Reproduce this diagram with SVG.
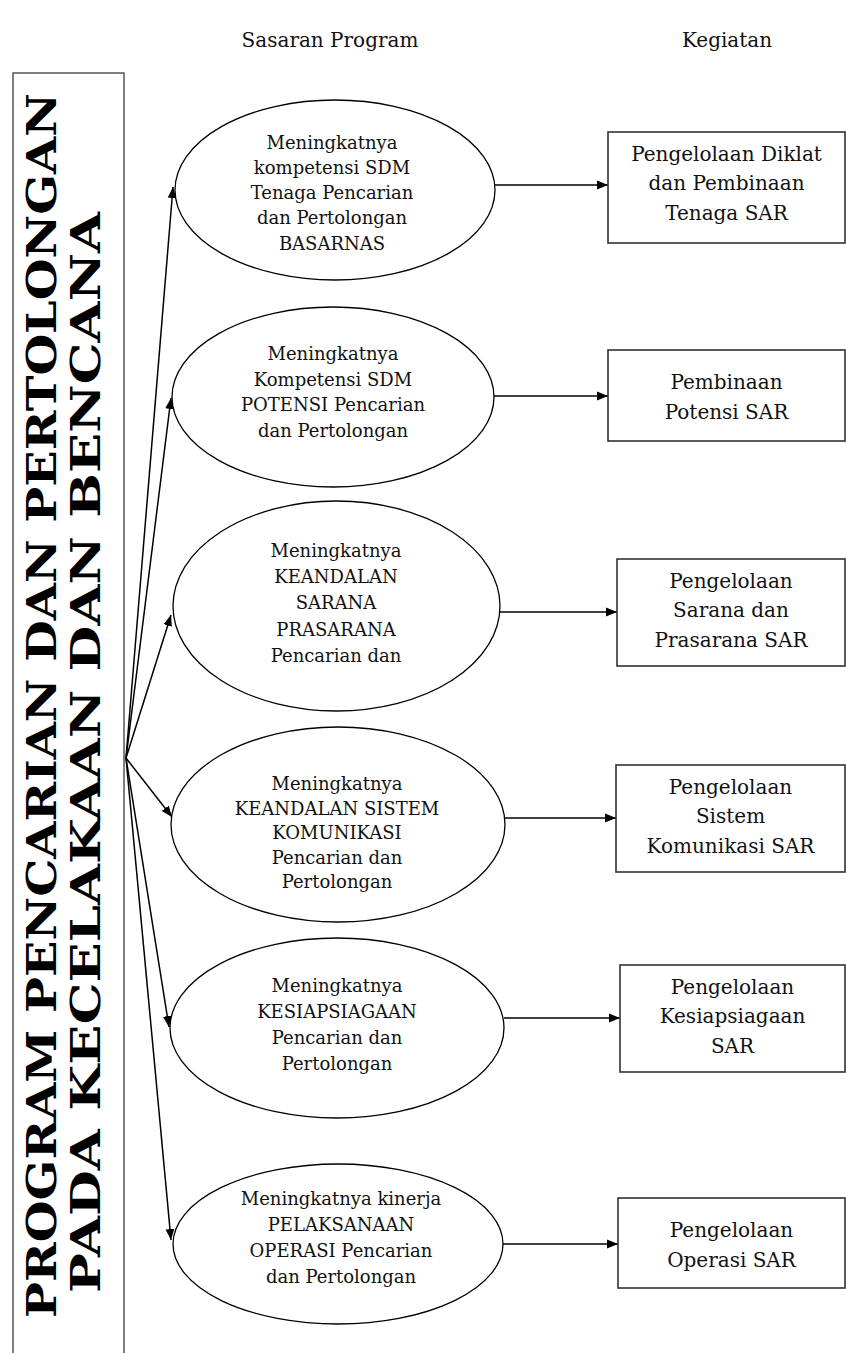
<svg xmlns="http://www.w3.org/2000/svg" width="846" height="1353" viewBox="0 0 846 1353">
<style>
.el{fill:#fff;stroke:#000;stroke-width:1.3}
.bx{fill:#fff;stroke:#333;stroke-width:1.6}
.t{font-family:"DejaVu Serif","Liberation Serif",serif;font-size:18px;fill:#111;text-anchor:middle}
.tb{font-family:"DejaVu Serif","Liberation Serif",serif;font-size:20px;fill:#111;text-anchor:middle}
.hd{font-family:"DejaVu Serif","Liberation Serif",serif;font-size:20px;fill:#111;text-anchor:middle}
.big{font-family:"DejaVu Serif","Liberation Serif",serif;font-weight:bold;font-size:41px;fill:#000;text-anchor:middle}
.cn{fill:none;stroke:#000;stroke-width:1.5}
</style>
<defs>
<marker id="ah" viewBox="0 0 10 10" refX="10" refY="5" markerWidth="11" markerHeight="11" markerUnits="userSpaceOnUse" orient="auto">
<path d="M0,1 L10,5 L0,9 Z" fill="#000"/>
</marker>
</defs>
<rect width="846" height="1353" fill="#fff"/>

<g id="headers">
<text class="hd" x="330" y="47">Sasaran Program</text>
<text class="hd" x="727" y="47">Kegiatan</text>
</g>

<g id="program">
<path d="M13,1360 L13,73 L124,73 L124,1360" fill="#fff" stroke="#555" stroke-width="1.5"/>
<text class="big" transform="translate(56,705.5) rotate(-90)" textLength="1225" lengthAdjust="spacingAndGlyphs">PROGRAM PENCARIAN DAN PERTOLONGAN</text>
<text class="big" transform="translate(100,752.5) rotate(-90)" textLength="1081" lengthAdjust="spacingAndGlyphs">PADA KECELAKAAN DAN BENCANA</text>
</g>

<g id="connectors">
<line class="cn" x1="126" y1="758" x2="173" y2="187" marker-end="url(#ah)"/>
<line class="cn" x1="126" y1="758" x2="171" y2="398" marker-end="url(#ah)"/>
<line class="cn" x1="126" y1="758" x2="171" y2="615" marker-end="url(#ah)"/>
<line class="cn" x1="126" y1="758" x2="172" y2="817" marker-end="url(#ah)"/>
<line class="cn" x1="126" y1="758" x2="169" y2="1027" marker-end="url(#ah)"/>
<line class="cn" x1="126" y1="758" x2="171" y2="1240" marker-end="url(#ah)"/>
<line class="cn" x1="494" y1="185" x2="608" y2="185" marker-end="url(#ah)"/>
<line class="cn" x1="494" y1="396" x2="608" y2="396" marker-end="url(#ah)"/>
<line class="cn" x1="500" y1="612" x2="617" y2="612" marker-end="url(#ah)"/>
<line class="cn" x1="502" y1="818" x2="616" y2="818" marker-end="url(#ah)"/>
<line class="cn" x1="504" y1="1018" x2="620" y2="1018" marker-end="url(#ah)"/>
<line class="cn" x1="503" y1="1244" x2="618" y2="1244" marker-end="url(#ah)"/>
</g>

<g id="sasaran1">
<ellipse class="el" cx="335" cy="190" rx="160" ry="90"/>
<text class="t" x="332" y="149">Meningkatnya</text>
<text class="t" x="332" y="174">kompetensi SDM</text>
<text class="t" x="332" y="199">Tenaga Pencarian</text>
<text class="t" x="332" y="224">dan Pertolongan</text>
<text class="t" x="332" y="250">BASARNAS</text>
</g>
<g id="sasaran2">
<ellipse class="el" cx="333" cy="397" rx="161" ry="90"/>
<text class="t" x="333" y="360">Meningkatnya</text>
<text class="t" x="333" y="386">Kompetensi SDM</text>
<text class="t" x="333" y="411">POTENSI Pencarian</text>
<text class="t" x="333" y="437">dan Pertolongan</text>
</g>
<g id="sasaran3">
<ellipse class="el" cx="336.5" cy="606" rx="163.5" ry="105"/>
<text class="t" x="336" y="557">Meningkatnya</text>
<text class="t" x="336" y="583">KEANDALAN</text>
<text class="t" x="336" y="609">SARANA</text>
<text class="t" x="336" y="636">PRASARANA</text>
<text class="t" x="336" y="662">Pencarian dan</text>
</g>
<g id="sasaran4">
<ellipse class="el" cx="338" cy="824.5" rx="167" ry="97.5"/>
<text class="t" x="337" y="790">Meningkatnya</text>
<text class="t" x="337" y="814.5">KEANDALAN SISTEM</text>
<text class="t" x="337" y="839">KOMUNIKASI</text>
<text class="t" x="337" y="863.5">Pencarian dan</text>
<text class="t" x="337" y="888">Pertolongan</text>
</g>
<g id="sasaran5">
<ellipse class="el" cx="337" cy="1028" rx="167" ry="90"/>
<text class="t" x="337" y="992">Meningkatnya</text>
<text class="t" x="337" y="1018">KESIAPSIAGAAN</text>
<text class="t" x="337" y="1044">Pencarian dan</text>
<text class="t" x="337" y="1070">Pertolongan</text>
</g>
<g id="sasaran6">
<ellipse class="el" cx="338" cy="1244" rx="165" ry="80"/>
<text class="t" x="341" y="1205">Meningkatnya kinerja</text>
<text class="t" x="341" y="1231">PELAKSANAAN</text>
<text class="t" x="341" y="1257">OPERASI Pencarian</text>
<text class="t" x="341" y="1283">dan Pertolongan</text>
</g>

<g id="kegiatan1">
<rect class="bx" x="608" y="132" width="237" height="111"/>
<text class="tb" x="726.5" y="161">Pengelolaan Diklat</text>
<text class="tb" x="726.5" y="190">dan Pembinaan</text>
<text class="tb" x="726.5" y="220">Tenaga SAR</text>
</g>
<g id="kegiatan2">
<rect class="bx" x="608" y="350" width="237" height="91"/>
<text class="tb" x="726.5" y="389">Pembinaan</text>
<text class="tb" x="726.5" y="419">Potensi SAR</text>
</g>
<g id="kegiatan3">
<rect class="bx" x="617" y="559" width="228" height="107"/>
<text class="tb" x="731" y="588">Pengelolaan</text>
<text class="tb" x="731" y="617">Sarana dan</text>
<text class="tb" x="731" y="647">Prasarana SAR</text>
</g>
<g id="kegiatan4">
<rect class="bx" x="616" y="765" width="229" height="107"/>
<text class="tb" x="730.5" y="794">Pengelolaan</text>
<text class="tb" x="730.5" y="823">Sistem</text>
<text class="tb" x="730.5" y="853">Komunikasi SAR</text>
</g>
<g id="kegiatan5">
<rect class="bx" x="620" y="965" width="225" height="107"/>
<text class="tb" x="732.5" y="994">Pengelolaan</text>
<text class="tb" x="732.5" y="1023">Kesiapsiagaan</text>
<text class="tb" x="732.5" y="1053">SAR</text>
</g>
<g id="kegiatan6">
<rect class="bx" x="618" y="1198" width="227" height="90"/>
<text class="tb" x="731.5" y="1237">Pengelolaan</text>
<text class="tb" x="731.5" y="1267">Operasi SAR</text>
</g>
</svg>
